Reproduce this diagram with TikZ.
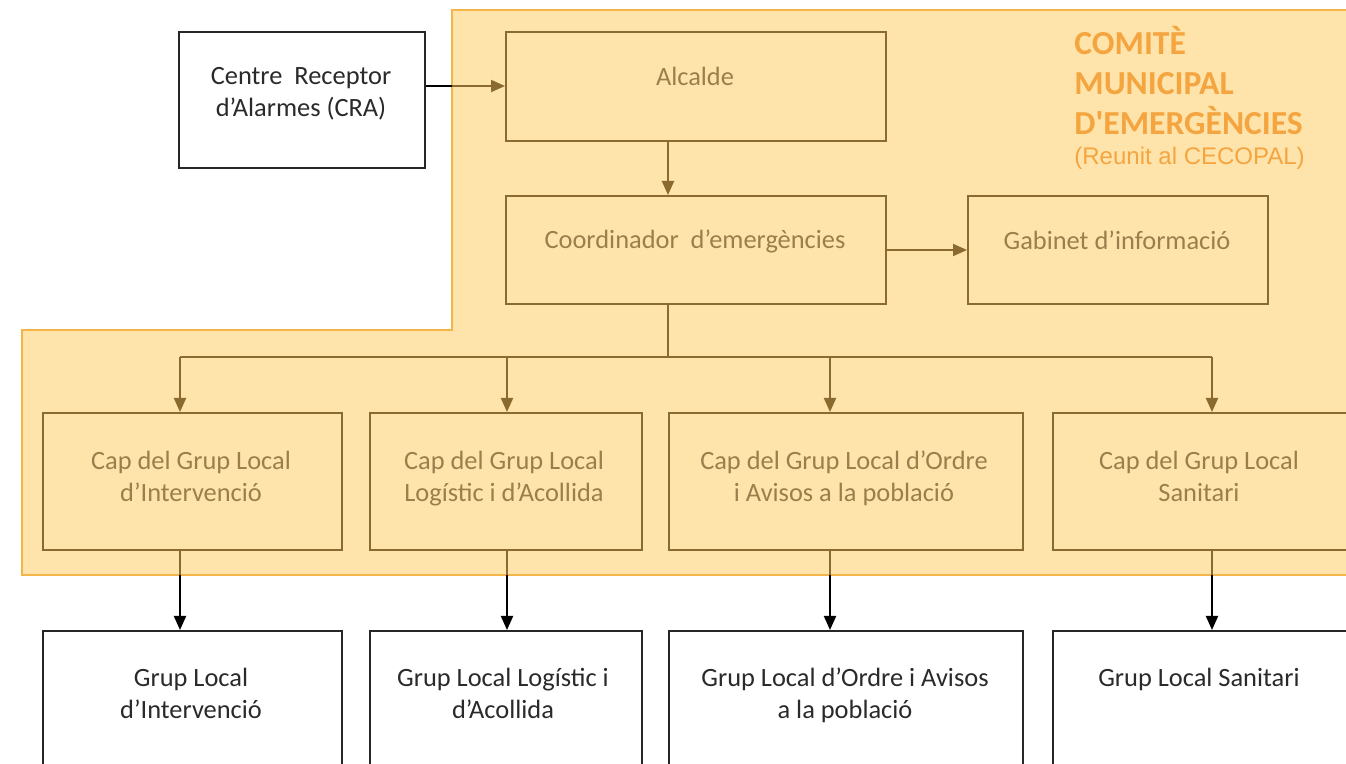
\documentclass[tikz,border=0pt]{standalone}
\usepackage{fontspec}
\setmainfont{Carlito}
\newfontfamily\titlefont{Carlito}[Ligatures=TeXOff]
\newfontfamily\arialf{Liberation Sans}
\usetikzlibrary{arrows.meta}
\definecolor{zonefill}{HTML}{FEE4AB}
\definecolor{zoneline}{HTML}{F4B548}
\definecolor{inbrown}{HTML}{8A6A2E}
\definecolor{intext}{HTML}{9C7E4C}
\definecolor{titleor}{HTML}{F5A540}
\definecolor{outtext}{HTML}{2A2A2A}
\tikzset{
  inbox/.style={draw=inbrown, line width=1pt, anchor=north west, inner sep=0pt},
  outbox/.style={draw=black!85, line width=1pt, fill=white, anchor=north west, inner sep=0pt},
  intxt/.style={text=intext, font=\fontsize{13.2}{16}\selectfont, align=center, inner sep=0pt},
  outtxt/.style={text=outtext, font=\fontsize{13.2}{16}\selectfont, align=center, inner sep=0pt},
  inarrow/.style={draw=inbrown, line width=1pt, -{Triangle[length=7pt,width=6pt]}},
  inline/.style={draw=inbrown, line width=1pt},
  outline/.style={draw=black, line width=1pt},
  outarrow/.style={draw=black, line width=1pt, -{Triangle[length=7pt,width=6pt]}},
}
\begin{document}
\begin{tikzpicture}[x=0.5pt,y=-0.5pt]
\useasboundingbox (0,0) rectangle (1346,764);
\clip (0,0) rectangle (1346,764);
% zone
\draw[fill=zonefill, draw=zoneline, line width=1.2pt]
  (452,10) -- (1370,10) -- (1370,575) -- (22,575) -- (22,330) -- (452,330) -- cycle;
% title
\node[anchor=north west, inner sep=0pt, text=titleor, align=left, font=\titlefont\fontsize{16.8}{20}\bfseries\selectfont] (title) at (1074,26) {COMITÈ\\MUNICIPAL\\D'EMERGÈNCIES};
\node[anchor=north west, inner sep=0pt, text=titleor, font=\arialf\fontsize{12}{14}\selectfont] (subtitle) at (1074,147) {(Reunit al CECOPAL)};
% boxes in zone (sizes in pt = px/2)
\node[inbox, minimum width=190pt, minimum height=54.5pt] (alc) at (505,31) {};
\node[inbox, minimum width=190pt, minimum height=54pt] (coord) at (505,195) {};
\node[inbox, minimum width=150pt, minimum height=54pt] (gab) at (967,195) {};
\node[inbox, minimum width=149.5pt, minimum height=68.5pt] (cap1) at (42,412) {};
\node[inbox, minimum width=136pt, minimum height=68.5pt] (cap2) at (369,412) {};
\node[inbox, minimum width=177pt, minimum height=68.5pt] (cap3) at (668,412) {};
\node[inbox, minimum width=155pt, minimum height=68.5pt] (cap4) at (1052,412) {};
% outside boxes
\node[outbox, minimum width=123pt, minimum height=68pt] (cra) at (178,31) {};
\node[outbox, minimum width=149.5pt, minimum height=80pt] (g1) at (42,630) {};
\node[outbox, minimum width=136pt, minimum height=80pt] (g2) at (369,630) {};
\node[outbox, minimum width=177pt, minimum height=80pt] (g3) at (668,630) {};
\node[outbox, minimum width=155pt, minimum height=80pt] (g4) at (1052,630) {};
% texts
\node[outtxt] (tcra) at (301,94) {Centre\ \ Receptor\\d’Alarmes (CRA)};
\node[intxt] (talc) at (695,76) {Alcalde};
\node[intxt] (tcoord) at (695,241) {Coordinador\ \ d’emergències};
\node[intxt] (tgab) at (1117,240) {Gabinet d’informació};
\node[intxt] (tc1) at (191,476) {Cap del Grup Local\\d’Intervenció};
\node[intxt, anchor=north] (tc2) at (tc1.north -| 504,0) {Cap del Grup Local\\Logístic i d’Acollida};
\node[intxt, anchor=north] (tc3) at (tc1.north -| 844,0) {Cap del Grup Local d’Ordre\\i Avisos a la població};
\node[intxt, anchor=north] (tc4) at (tc1.north -| 1199,0) {Cap del Grup Local\\Sanitari};
\node[outtxt] (tg1) at (191,693) {Grup Local\\d’Intervenció};
\node[outtxt, anchor=north] (tg2) at (tg1.north -| 503,0) {Grup Local Logístic i\\d’Acollida};
\node[outtxt, anchor=north] (tg3) at (tg1.north -| 845,0) {Grup Local d’Ordre i Avisos\\a la població};
\node[outtxt, anchor=north] (tg4) at (tg1.north -| 1199,0) {Grup Local Sanitari};
% connectors
\coordinate (j) at (668,357);
\draw[outline] (cra.east |- 0,86) -- (452,86);
\draw[inarrow] (452,86) -- (alc.west |- 0,86);
\draw[inarrow] (alc.south -| 668,0) -- (coord.north -| 668,0);
\draw[inarrow] (coord.east |- 0,250) -- (gab.west |- 0,250);
\draw[inline] (coord.south -| 668,0) -- (j);
\draw[inline] (180,357) -- (1212,357);
\draw[inarrow] (180,357) -- (cap1.north -| 180,0);
\draw[inarrow] (507,357) -- (cap2.north -| 507,0);
\draw[inarrow] (830,357) -- (cap3.north -| 830,0);
\draw[inarrow] (1212,357) -- (cap4.north -| 1212,0);
\foreach \c/\g/\x in {cap1/g1/180, cap2/g2/507, cap3/g3/830, cap4/g4/1212}{
  \draw[inline] (\c.south -| \x,0) -- (\x,575);
  \draw[outarrow] (\x,575) -- (\g.north -| \x,0);
}
\end{tikzpicture}
\end{document}
